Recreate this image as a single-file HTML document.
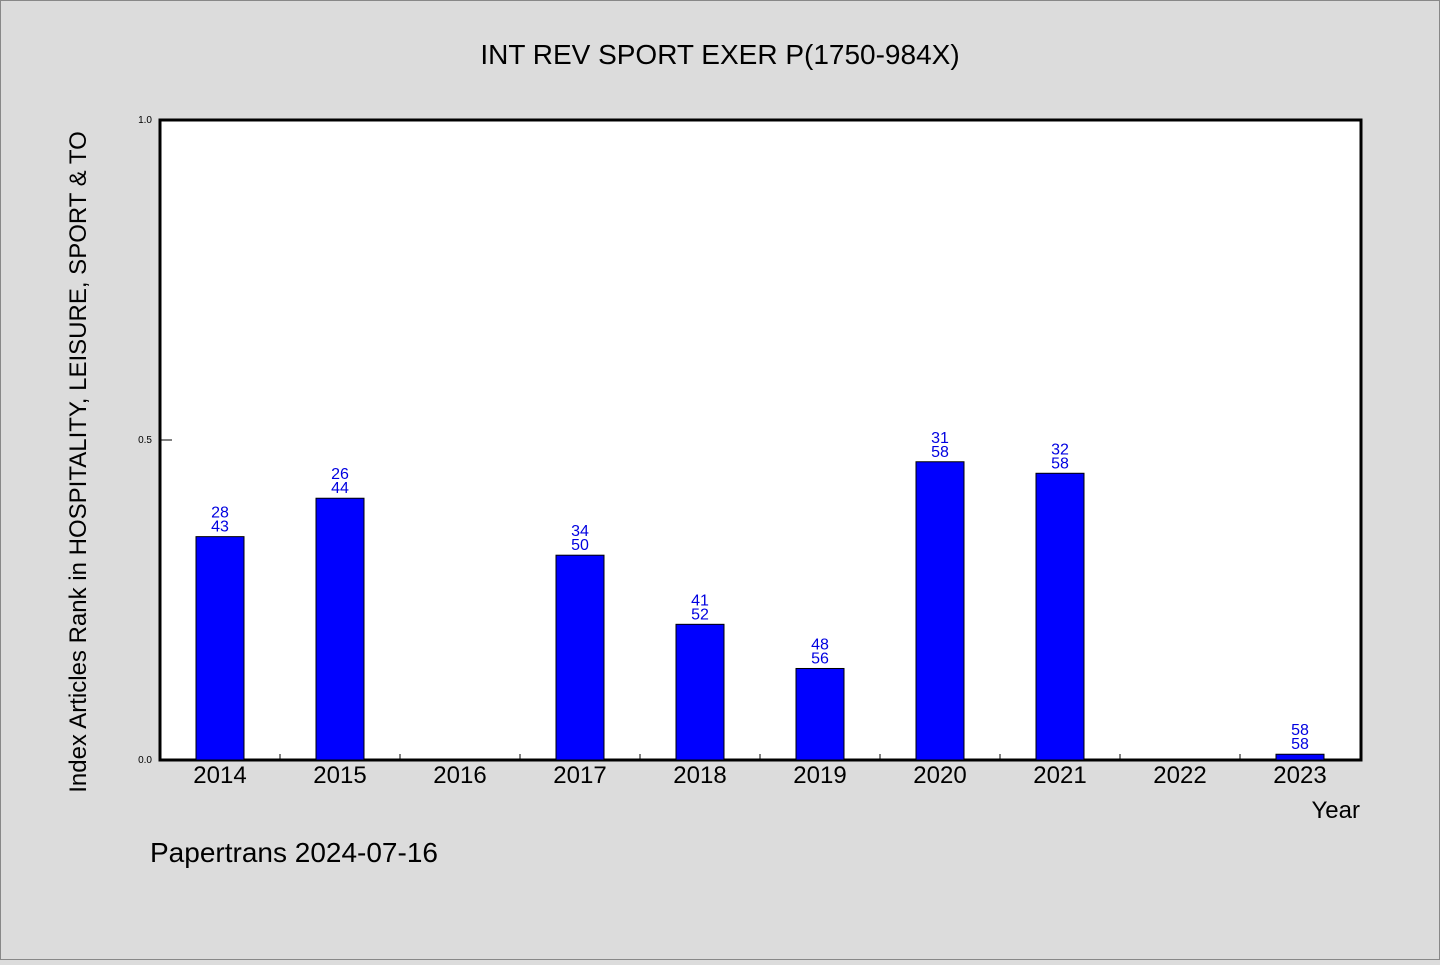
<!DOCTYPE html>
<html><head><meta charset="utf-8">
<style>
html,body{margin:0;padding:0;}
body{width:1440px;height:960px;background:#dcdcdc;font-family:"WenQuanYi Zen Hei","Liberation Sans",sans-serif;position:relative;overflow:hidden;}
svg text{font-family:"WenQuanYi Zen Hei","Liberation Sans",sans-serif;}
</style></head>
<body>
<svg id="chart" width="1440" height="960">
<rect x="0.5" y="0.5" width="1439" height="959" fill="#dcdcdc" stroke="#888"/>
<text x="720" y="64" text-anchor="middle" font-size="28" fill="#000">INT REV SPORT EXER P(1750-984X)</text>
<rect x="160" y="120" width="1201" height="640" fill="#fff" stroke="#000" stroke-width="3"/>
<g id="marks"></g>
<text x="1360" y="818" text-anchor="end" font-size="24">Year</text>
<text transform="translate(86,462) rotate(-90)" text-anchor="middle" font-size="24">Index Articles Rank in HOSPITALITY, LEISURE, SPORT &amp; TO</text>
<text x="150" y="862" font-size="28">Papertrans 2024-07-16</text>
</svg>
<script>
const categories=["2014","2015","2016","2017","2018","2019","2020","2021","2022","2023"];
const values=[0.349,0.409,null,0.32,0.212,0.143,0.466,0.448,null,0.009];
const ranks=["28","26","","34","41","48","31","32","","58"];
const totals=["43","44","","50","52","56","58","58","","58"];
const yTicks=[0,0.5,1.0];
const yTickLabels=["0.0","0.5","1.0"];

const X0=160,W=1201,Y0=760,H=640;
const band=120;
function xCenter(i){return X0+band*(i+0.5);}
function yScale(v){return Y0-v*H;}
const g=document.getElementById('marks');
const NS='http://www.w3.org/2000/svg';
function mk(t,a){const e=document.createElementNS(NS,t);for(const k in a)e.setAttribute(k,a[k]);g.appendChild(e);return e;}

yTicks.forEach((v,i)=>{
  const y=yScale(v);
  const l=mk('line',{x1:X0,x2:X0+12,y1:y,y2:y,stroke:'#000','stroke-width':1});
  
  
  const t=mk('text',{x:X0-8,y:y+3,'text-anchor':'end','font-size':10});
  t.textContent=yTickLabels[i];
  
  
});

categories.forEach((c,i)=>{
  const cx=xCenter(i);
  if(i>0){
    const tk=mk('line',{x1:X0+band*i,x2:X0+band*i,y1:Y0,y2:Y0-6,stroke:'#000','stroke-width':1});
    
    
  }
  const lb=mk('text',{x:cx,y:Y0+23,'text-anchor':'middle','font-size':24});
  lb.textContent=c;
  
  
  const v=values[i];
  if(v!==null){
    const top=yScale(v);
    const b=mk('rect',{x:cx-24,y:top,width:48,height:Y0-top,fill:'#0000ff',stroke:'#000','stroke-width':1});
    
    
    const t1=mk('text',{x:cx,y:top-19,'text-anchor':'middle','font-size':16,fill:'#0000e0'});
    t1.textContent=ranks[i];
    
    
    const t2=mk('text',{x:cx,y:top-5,'text-anchor':'middle','font-size':16,fill:'#0000e0'});
    t2.textContent=totals[i];
    
    
  }
});
</script>
</body></html>
